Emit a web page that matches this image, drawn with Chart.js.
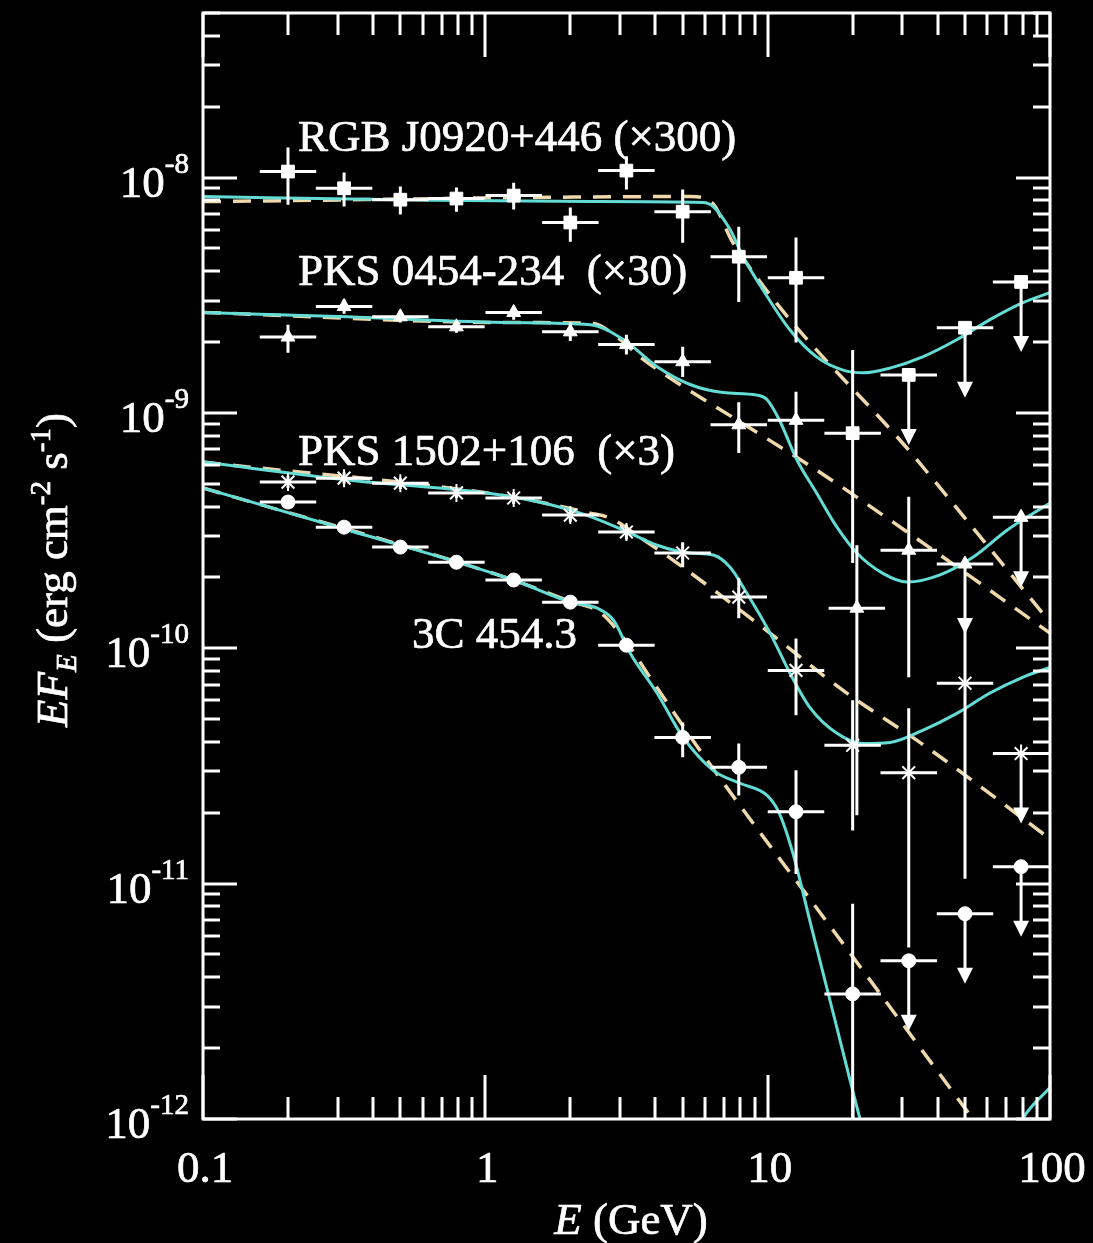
<!DOCTYPE html>
<html>
<head>
<meta charset="utf-8">
<title>EF_E spectra</title>
<script src="https://cdn.jsdelivr.net/npm/chart.js@4.4.1/dist/chart.umd.min.js"></script>
<style>
  html, body { margin: 0; padding: 0; background: #000; }
  canvas { display: block; }
</style>
</head>
<body>
<canvas id="sedChart" width="1093" height="1243"></canvas>
<script>
// bin centres (GeV); each bin is 0.1 dex wide on either side
var energy = [0.2, 0.316, 0.5, 0.79, 1.26, 2.0, 3.16, 5.0, 7.9, 12.6, 20, 31.6, 50, 79];
var pks0454Energy = [0.2, 0.316, 0.5, 0.79, 1.26, 2.0, 3.16, 5.0, 7.9, 12.6, 20.7, 31.6, 50, 79];
var binHalfWidthDex = 0.1;

// RGB J0920+446 (x300)
var rgbFlux = [1.06e-8, 9.0e-9, 8.05e-9, 8.14e-9, 8.38e-9, 6.44e-9, 1.07e-8, 7.16e-9, 4.61e-9, 3.75e-9, 8.2e-10, 1.45e-9, 2.3e-9, 3.6e-9];
var rgbHigh = [1.34e-8, 1.05e-8, 9.16e-9, 9.06e-9, 9.5e-9, 7.45e-9, 1.23e-8, 8.89e-9, 6.18e-9, 5.56e-9, 1.85e-9, null, null, null];
var rgbLow = [7.67e-9, 7.53e-9, 6.96e-9, 7.16e-9, 7.31e-9, 5.34e-9, 8.89e-9, 5.28e-9, 2.96e-9, 1.99e-9, 2.3e-10, null, null, null];
var rgbUpper = [false, false, false, false, false, false, false, false, false, false, false, true, true, true];

// PKS 0454-234 (x30)
var pks0454Flux = [2.1e-9, 2.83e-9, 2.56e-9, 2.32e-9, 2.67e-9, 2.21e-9, 1.95e-9, 1.65e-9, 8.9e-10, 9.3e-10, 1.48e-10, 2.61e-10, 2.28e-10, 3.6e-10];
var pks0454High = [2.37e-9, 3.03e-9, 2.73e-9, 2.46e-9, 2.85e-9, 2.42e-9, 2.15e-9, 1.91e-9, 1.11e-9, 1.23e-9, 2.74e-10, 4.4e-10, null, null];
var pks0454Low = [1.8e-9, 2.64e-9, 2.42e-9, 2.19e-9, 2.49e-9, 2.02e-9, 1.77e-9, 1.42e-9, 6.76e-10, 6.5e-10, 1.95e-11, 7.53e-11, null, null];
var pks0454Upper = [false, false, false, false, false, false, false, false, false, false, false, false, true, true];

// PKS 1502+106 (x3)
var pks1502Flux = [5.08e-10, 5.28e-10, 5.03e-10, 4.57e-10, 4.35e-10, 3.68e-10, 3.12e-10, 2.54e-10, 1.65e-10, 8.05e-11, 3.87e-11, 2.96e-11, 7.1e-11, 3.57e-11];
var pks1502High = [5.4e-10, 5.6e-10, 5.3e-10, 4.8e-10, 4.6e-10, 3.9e-10, 3.35e-10, 2.82e-10, 1.99e-10, 1.1e-10, 6.01e-11, 5.56e-11, 1.32e-10, null];
var pks1502Low = [4.8e-10, 5.0e-10, 4.75e-10, 4.35e-10, 4.1e-10, 3.45e-10, 2.9e-10, 2.21e-10, 1.34e-10, 5.19e-11, 1.68e-11, 5.35e-12, 1.05e-11, null];
var pks1502Upper = [false, false, false, false, false, false, false, false, false, false, false, false, false, true];

// 3C 454.3
var c3Flux = [4.18e-10, 3.27e-10, 2.69e-10, 2.32e-10, 1.95e-10, 1.57e-10, 1.03e-10, 4.18e-11, 3.12e-11, 2.02e-11, 3.4e-12, 4.7e-12, 7.45e-12, 1.18e-11];
var c3High = [4.35e-10, 3.4e-10, 2.8e-10, 2.42e-10, 2.03e-10, 1.64e-10, 1.09e-10, 4.84e-11, 3.94e-11, 3.03e-11, 8.22e-12, null, null, null];
var c3Low = [4.0e-10, 3.15e-10, 2.58e-10, 2.22e-10, 1.87e-10, 1.5e-10, 9.7e-11, 3.44e-11, 2.37e-11, 1.1e-11, 5e-13, null, null, null];
var c3Upper = [false, false, false, false, false, false, false, false, false, false, false, true, true, true];

// model curves: solid (cyan) and dashed (power law)
var rgbModelE = [0.1, 0.5, 2.35, 5.9, 6.41, 7.36, 8.18, 9.63, 12.0, 14.9, 18.5, 21.7, 27.1, 35.4, 46.9, 61.3, 80.2, 100];
var rgbModelF = [8.3e-9, 8.05e-9, 7.9e-9, 7.83e-9, 7.53e-9, 6.01e-9, 4.61e-9, 3.33e-9, 2.25e-9, 1.73e-9, 1.52e-9, 1.48e-9, 1.55e-9, 1.73e-9, 2.05e-9, 2.49e-9, 2.94e-9, 3.24e-9];
var rgbPowerE = [0.1, 5.31, 6.35, 7.54, 33.8, 100];
var rgbPowerF = [7.9e-9, 8.3e-9, 7.83e-9, 5.28e-9, 6.31e-10, 1.29e-10];

var pks0454ModelE = [0.1, 0.324, 1.25, 2.35, 3.08, 4.06, 5.31, 6.95, 9.17, 9.94, 11.0, 12.7, 14.9, 17.6, 20.7, 25.6, 31.2, 40.8, 53.5, 70.6, 100];
var pks0454ModelF = [2.67e-9, 2.56e-9, 2.42e-9, 2.37e-9, 2.05e-9, 1.57e-9, 1.32e-9, 1.22e-9, 1.19e-9, 1.14e-9, 9.33e-10, 6.31e-10, 4.57e-10, 3.27e-10, 2.54e-10, 2.08e-10, 1.91e-10, 2.05e-10, 2.44e-10, 3.18e-10, 4.14e-10];
var pks0454PowerE = [0.1, 1.25, 2.4, 2.93, 3.53, 4.62, 7.79, 14.9, 31.2, 100];
var pks0454PowerF = [2.67e-9, 2.42e-9, 2.4e-9, 2.1e-9, 1.73e-9, 1.38e-9, 9.33e-10, 5.71e-10, 3.12e-10, 1.16e-10];

var pks1502ModelE = [0.1, 0.325, 1.256, 2.17, 3.08, 4.06, 5.31, 6.41, 7.36, 8.45, 10.2, 12.0, 14.1, 17.6, 21.7, 27.1, 35.4, 46.8, 61.1, 80.0, 100];
var pks1502ModelF = [6.18e-10, 5.19e-10, 4.39e-10, 3.75e-10, 3.18e-10, 2.74e-10, 2.54e-10, 2.49e-10, 2.21e-10, 1.71e-10, 1.16e-10, 7.83e-11, 5.61e-11, 4.35e-11, 3.94e-11, 3.98e-11, 4.48e-11, 5.29e-11, 6.44e-11, 7.53e-11, 8.3e-11];
var pks1502PowerE = [0.1, 1.256, 2.35, 2.77, 3.53, 4.62, 9.17, 18.5, 36.7, 100];
var pks1502PowerF = [6.18e-10, 4.39e-10, 3.75e-10, 3.57e-10, 2.96e-10, 2.37e-10, 1.28e-10, 6.62e-11, 3.79e-11, 1.55e-11];

var c3ModelE = [0.1, 0.325, 1.256, 2.0, 2.49, 2.84, 3.26, 4.06, 5.02, 6.41, 7.98, 9.95, 11.0, 12.3, 14.1, 17.7, 21.2, 29.4, 44.2, 80, 100];
var c3ModelF = [4.8e-10, 3.18e-10, 1.95e-10, 1.57e-10, 1.48e-10, 1.32e-10, 9.52e-11, 6.44e-11, 4.18e-11, 3.03e-11, 2.67e-11, 2.37e-11, 1.99e-11, 1.34e-11, 6.97e-12, 2.37e-12, 1.01e-12, 2.5e-13, 2.0e-13, 1.0e-12, 1.36e-12];
var c3PowerE = [0.1, 1.256, 2.0, 2.55, 3.13, 3.83, 5.76, 17.1, 47.9, 66.4];
var c3PowerF = [4.8e-10, 1.95e-10, 1.58e-10, 1.42e-10, 1.08e-10, 7.53e-11, 3.68e-11, 6.31e-12, 1.19e-12, 7.0e-13];

var xTickLabels = ["0.1", "1", "10", "100"];
var yTickExponents = ["-12", "-11", "-10", "-9", "-8"];

var SERIF = "'Liberation Serif', 'Times New Roman', serif";
var CYAN = "#63dcd6";
var WHEAT = "#efd8aa";

function buildPoints(e, flux, low, high, upper) {
  var half = Math.pow(10, binHalfWidthDex);
  return e.map(function (v, i) {
    return { x: v, y: flux[i], xMin: v / half, xMax: v * half, yMin: low[i], yMax: high[i], ul: upper[i] };
  });
}

function buildCurve(e, f) {
  return e.map(function (v, i) { return { x: v, y: f[i] }; });
}

function pointSet(label, data, style, radius, width) {
  return {
    label: label, data: data, errorBars: true,
    pointStyle: style, pointRadius: radius, pointHoverRadius: radius,
    backgroundColor: "#fff", borderColor: "#fff", borderWidth: width,
    showLine: false, order: 0
  };
}

function curveSet(label, data, color, dash, width, order) {
  return {
    label: label, data: data, showLine: true,
    borderColor: color, borderWidth: width, borderDash: dash,
    pointRadius: 0, pointHoverRadius: 0, fill: false,
    cubicInterpolationMode: "monotone", order: order, clip: 0
  };
}

// text drawn with a hairline outline so the serif strokes read a little heavier
function heavyText(ctx, t, x, y) {
  ctx.fillText(t, x, y);
  ctx.strokeText(t, x, y);
}

// rich text: runs of {t, size, italic, dy}
function runWidth(ctx, runs) {
  var w = 0;
  runs.forEach(function (r) {
    ctx.font = (r.italic ? "italic " : "") + r.size + "px " + SERIF;
    w += ctx.measureText(r.t).width;
  });
  return w;
}
function drawRuns(ctx, runs, x, y) {
  runs.forEach(function (r) {
    ctx.font = (r.italic ? "italic " : "") + r.size + "px " + SERIF;
    heavyText(ctx, r.t, x, y + (r.dy || 0));
    x += ctx.measureText(r.t).width;
  });
}

var backgroundPlugin = {
  id: "blackBackground",
  beforeDraw: function (chart) {
    var ctx = chart.ctx;
    ctx.save();
    ctx.fillStyle = "#000";
    ctx.fillRect(0, 0, chart.width, chart.height);
    ctx.restore();
  }
};

var errorBarPlugin = {
  id: "errorBars",
  afterDatasetsDraw: function (chart) {
    var ctx = chart.ctx, xs = chart.scales.x, ys = chart.scales.y, a = chart.chartArea;
    var arrowLength = 70;
    ctx.save();
    ctx.beginPath();
    ctx.rect(a.left, a.top, a.right - a.left, a.bottom - a.top);
    ctx.clip();
    ctx.strokeStyle = "#fff";
    ctx.fillStyle = "#fff";
    ctx.lineWidth = 3;
    chart.data.datasets.forEach(function (ds) {
      if (!ds.errorBars) return;
      ds.data.forEach(function (p) {
        var px = xs.getPixelForValue(p.x), py = ys.getPixelForValue(p.y);
        ctx.beginPath();
        ctx.moveTo(xs.getPixelForValue(p.xMin), py);
        ctx.lineTo(xs.getPixelForValue(p.xMax), py);
        if (p.ul) {
          var tip = py + arrowLength;
          ctx.moveTo(px, py);
          ctx.lineTo(px, tip - 12);
          ctx.stroke();
          ctx.beginPath();
          ctx.moveTo(px - 8, tip - 16);
          ctx.lineTo(px + 8, tip - 16);
          ctx.lineTo(px, tip);
          ctx.closePath();
          ctx.fill();
        } else {
          ctx.moveTo(px, ys.getPixelForValue(p.yMax));
          ctx.lineTo(px, ys.getPixelForValue(p.yMin));
          ctx.stroke();
        }
      });
    });
    ctx.restore();
  }
};

var framePlugin = {
  id: "frame",
  afterDraw: function (chart) {
    var ctx = chart.ctx, xs = chart.scales.x, ys = chart.scales.y, a = chart.chartArea;
    ctx.save();
    ctx.strokeStyle = "#fff";
    ctx.fillStyle = "#fff";
    ctx.lineWidth = 3;
    ctx.strokeRect(a.left, a.top, a.right - a.left, a.bottom - a.top);

    // log ticks on all four sides, pointing inward
    ctx.beginPath();
    var p, m, v, px, len;
    for (p = -1; p <= 2; p++) {
      for (m = 1; m <= 9; m++) {
        v = m * Math.pow(10, p);
        if (v > 100.001) break;
        px = Math.round(xs.getPixelForValue(v));
        len = m === 1 ? 44 : 22;
        ctx.moveTo(px, a.bottom); ctx.lineTo(px, a.bottom - len);
        ctx.moveTo(px, a.top); ctx.lineTo(px, a.top + len);
      }
    }
    for (p = -12; p <= -8; p++) {
      for (m = 1; m <= 9; m++) {
        v = m * Math.pow(10, p);
        if (v > 5.0001e-8) break;
        var py = Math.round(ys.getPixelForValue(v));
        len = m === 1 ? 34 : 17;
        ctx.moveTo(a.left, py); ctx.lineTo(a.left + len, py);
        ctx.moveTo(a.right, py); ctx.lineTo(a.right - len, py);
      }
    }
    ctx.stroke();

    ctx.lineWidth = 0.7;
    ctx.lineJoin = "round";

    // x tick labels
    ctx.textAlign = "center";
    ctx.textBaseline = "alphabetic";
    ctx.font = "45px " + SERIF;
    xTickLabels.forEach(function (t) {
      heavyText(ctx, t, xs.getPixelForValue(parseFloat(t)) + 2, a.bottom + 63);
    });

    // y tick labels 10^n
    ctx.textAlign = "left";
    yTickExponents.forEach(function (ex) {
      var y = ys.getPixelForValue(Math.pow(10, parseInt(ex, 10)));
      var runs = [{ t: "10", size: 45, dy: 19 }, { t: ex, size: 29, dy: -5 }];
      var w = runWidth(ctx, runs);
      drawRuns(ctx, runs, 189 - w, y);
    });

    // axis titles
    var xTitle = [{ t: "E", size: 45, italic: true }, { t: " (GeV)", size: 45 }];
    var w = runWidth(ctx, xTitle);
    drawRuns(ctx, xTitle, 631 - w / 2, 1234);

    var yTitle = [
      { t: "EF", size: 45, italic: true },
      { t: "E", size: 29, italic: true, dy: 9 },
      { t: " (erg cm", size: 45 },
      { t: "-2", size: 29, dy: -17 },
      { t: " s", size: 45 },
      { t: "-1", size: 29, dy: -17 },
      { t: ")", size: 45 }
    ];
    ctx.save();
    ctx.translate(67, 570);
    ctx.rotate(-Math.PI / 2);
    w = runWidth(ctx, yTitle);
    drawRuns(ctx, yTitle, -w / 2, 0);
    ctx.restore();

    // source names
    ctx.font = "45px " + SERIF;
    heavyText(ctx, "RGB J0920+446 (\u00d7300)", a.left + 95, 151);
    heavyText(ctx, "PKS 0454-234  (\u00d730)", a.left + 95, 285);
    heavyText(ctx, "PKS 1502+106  (\u00d73)", a.left + 95, 465);
    heavyText(ctx, "3C 454.3", a.left + 209, 648);
    ctx.restore();
  }
};

var chart = new Chart(document.getElementById("sedChart").getContext("2d"), {
  type: "scatter",
  data: {
    datasets: [
      pointSet("RGB J0920+446", buildPoints(energy, rgbFlux, rgbLow, rgbHigh, rgbUpper), "rect", 9, 1),
      pointSet("PKS 0454-234", buildPoints(pks0454Energy, pks0454Flux, pks0454Low, pks0454High, pks0454Upper), "triangle", 8, 1),
      pointSet("PKS 1502+106", buildPoints(energy, pks1502Flux, pks1502Low, pks1502High, pks1502Upper), "star", 9, 2),
      pointSet("3C 454.3", buildPoints(energy, c3Flux, c3Low, c3High, c3Upper), "circle", 7, 1),
      curveSet("RGB J0920+446 model", buildCurve(rgbModelE, rgbModelF), CYAN, [], 3, 1),
      curveSet("PKS 0454-234 model", buildCurve(pks0454ModelE, pks0454ModelF), CYAN, [], 3, 1),
      curveSet("PKS 1502+106 model", buildCurve(pks1502ModelE, pks1502ModelF), CYAN, [], 3, 1),
      curveSet("3C 454.3 model", buildCurve(c3ModelE, c3ModelF), CYAN, [], 3, 1),
      curveSet("RGB J0920+446 power law", buildCurve(rgbPowerE, rgbPowerF), WHEAT, [18, 12], 3.5, 2),
      curveSet("PKS 0454-234 power law", buildCurve(pks0454PowerE, pks0454PowerF), WHEAT, [18, 12], 3.5, 2),
      curveSet("PKS 1502+106 power law", buildCurve(pks1502PowerE, pks1502PowerF), WHEAT, [18, 12], 3.5, 2),
      curveSet("3C 454.3 power law", buildCurve(c3PowerE, c3PowerF), WHEAT, [18, 12], 3.5, 2)
    ]
  },
  options: {
    responsive: false,
    devicePixelRatio: 1,
    animation: false,
    layout: { padding: { left: 203, top: 13, right: 43, bottom: 124 } },
    plugins: { legend: { display: false }, tooltip: { enabled: false } },
    scales: {
      x: { type: "logarithmic", min: 0.1, max: 100, display: false },
      y: { type: "logarithmic", min: 1e-12, max: 5e-8, display: false }
    }
  },
  plugins: [backgroundPlugin, errorBarPlugin, framePlugin]
});
</script>
</body>
</html>
